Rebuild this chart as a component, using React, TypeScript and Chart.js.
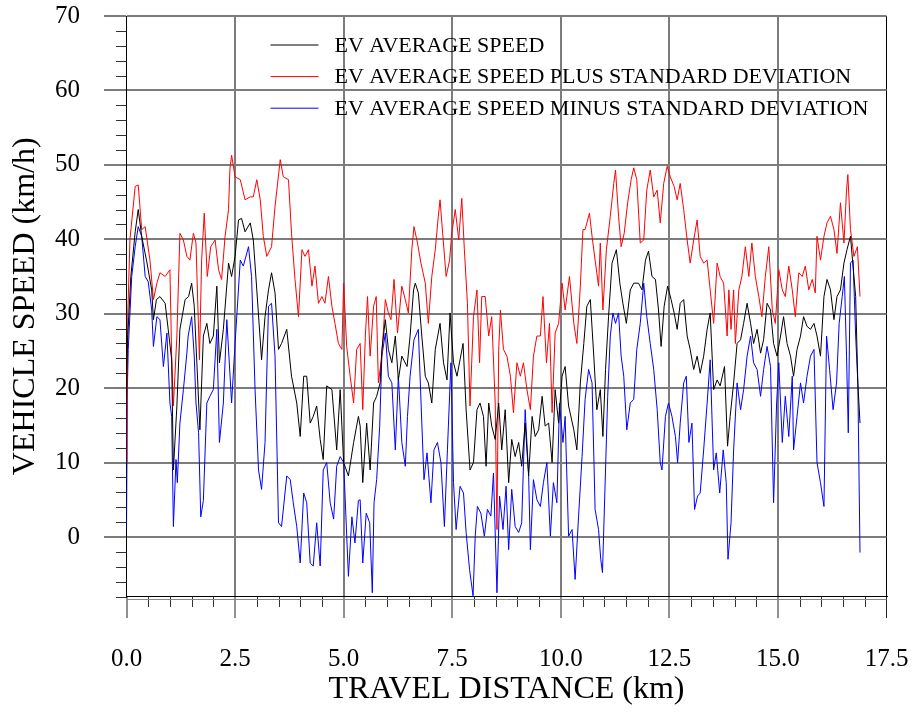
import React, { useEffect, useRef } from "react";
import { Chart, registerables } from "chart.js";

Chart.register(...registerables);

// ---------- data ----------
const avgKm = [
  0, 0.02, 0.1, 0.2, 0.27, 0.35, 0.46, 0.58, 0.62, 0.69, 0.77, 0.89, 0.96, 1.04, 1.08, 1.16, 1.23, 1.35, 1.43, 1.5,
  1.56, 1.62, 1.69, 1.77, 1.85, 1.92, 2.0, 2.08, 2.14, 2.23, 2.35, 2.42, 2.5, 2.58, 2.65, 2.73, 2.85, 2.92, 3.0, 3.11,
  3.19, 3.27, 3.34, 3.42, 3.5, 3.57, 3.69, 3.8, 3.92, 4.0, 4.08, 4.15, 4.23, 4.3, 4.38, 4.46, 4.53, 4.61, 4.73, 4.84,
  4.92, 5.0, 5.11, 5.23, 5.34, 5.38, 5.44, 5.53, 5.61, 5.69, 5.76, 5.84, 5.88, 5.96, 6.03, 6.11, 6.19, 6.26, 6.34, 6.46,
  6.53, 6.61, 6.65, 6.72, 6.8, 6.88, 6.95, 7.03, 7.11, 7.22, 7.3, 7.38, 7.45, 7.53, 7.61, 7.68, 7.75, 7.82, 7.91, 7.99,
  8.07, 8.14, 8.22, 8.28, 8.34, 8.41, 8.49, 8.57, 8.64, 8.72, 8.8, 8.87, 8.95, 9.03, 9.1, 9.18, 9.26, 9.34, 9.41, 9.49,
  9.57, 9.64, 9.72, 9.8, 9.87, 9.95, 10.03, 10.1, 10.18, 10.3, 10.37, 10.45, 10.53, 10.6, 10.68, 10.76, 10.83, 10.91, 10.97, 11.03,
  11.1, 11.18, 11.28, 11.36, 11.43, 11.51, 11.6, 11.68, 11.79, 11.87, 11.95, 12.02, 12.1, 12.18, 12.25, 12.31, 12.38, 12.46, 12.54, 12.61,
  12.68, 12.75, 12.83, 12.91, 12.98, 13.06, 13.14, 13.21, 13.29, 13.37, 13.44, 13.52, 13.6, 13.67, 13.77, 13.84, 13.9, 13.98, 14.06, 14.14,
  14.21, 14.29, 14.37, 14.44, 14.52, 14.6, 14.67, 14.75, 14.83, 14.9, 14.98, 15.06, 15.13, 15.21, 15.29, 15.36, 15.44, 15.52, 15.59, 15.67,
  15.75, 15.83, 15.9, 15.98, 16.06, 16.13, 16.21, 16.29, 16.36, 16.44, 16.52, 16.59, 16.67, 16.75, 16.79, 16.84, 16.89,
];
const avgSpeed = [
  19, 26, 35, 41, 44, 40.4, 37.2, 33.2, 29.2, 31.9, 32.3, 31.4, 27.9, 23.8, 9, 17.6, 27.9, 31.9, 32.3, 34.1,
  31, 23.4, 14.4, 27, 28.7, 26, 27, 33.7, 23.4, 27.9, 36.8, 35, 37.7, 42.6, 42.8, 41, 42.2, 39.9, 33.2, 23.8,
  29.6, 33.2, 35.5, 32.8, 25.2, 26, 27.9, 21.6, 18, 13.5, 21.6, 21.6, 15.3, 16.2, 17.6, 13.1, 10.4, 20.3, 19.8, 11.7,
  19.8, 10, 8.2, 12.7, 16.2, 14.9, 7.3, 15.3, 9, 18, 18.9, 20.7, 25.2, 29.2, 25.2, 23.4, 27, 21.1, 24.3, 22.9,
  27, 33.2, 34.1, 32.8, 27, 21.6, 20.7, 18, 25.2, 28.7, 23.4, 21.1, 30.1, 23.4, 21.6, 23.8, 26, 17.1, 9, 10,
  17.1, 18, 16.2, 9.5, 18, 14.9, 13.1, 18, 11.7, 17.1, 7.3, 13.1, 10.8, 12.7, 9.5, 15.3, 8.2, 16.2, 13.5, 14.4,
  18.9, 14.9, 15.3, 10, 19.8, 15.3, 21.6, 22.9, 17.6, 14.4, 11.7, 20.7, 26, 31, 31.9, 24.3, 17.1, 19.8, 13.5, 22.5,
  29.6, 36.8, 38.6, 34.1, 31.4, 28.7, 33.2, 34.1, 34.1, 33.2, 37.2, 38.4, 35, 34.6, 30.5, 25.6, 31, 33.7, 31.9, 30.1,
  27.9, 31.4, 31.9, 27, 25.2, 22.5, 24.3, 22, 24.3, 27.9, 30.1, 19.8, 21.1, 20.3, 22.9, 12.2, 16.2, 20.7, 26, 26.5,
  28.7, 31.4, 28.7, 26, 27.9, 24.7, 26.5, 31.4, 30.5, 26, 24.3, 27, 29.6, 26, 24.3, 21.6, 25.2, 27, 29.6, 28.3,
  27.9, 28.7, 27, 24.3, 32.3, 34.6, 33.2, 29.2, 32.3, 33.2, 36.8, 38.6, 40.4, 35, 32.3, 20.7, 15.3,
];

const plusKm = [
  0, 0.01, 0.03, 0.08, 0.2, 0.27, 0.35, 0.43, 0.54, 0.62, 0.7, 0.77, 0.89, 1.0, 1.04, 1.08, 1.16, 1.23, 1.31, 1.39,
  1.46, 1.54, 1.6, 1.68, 1.73, 1.79, 1.86, 1.94, 2.04, 2.12, 2.19, 2.27, 2.35, 2.38, 2.42, 2.5, 2.62, 2.73, 2.85, 2.92,
  3.0, 3.08, 3.15, 3.23, 3.34, 3.42, 3.54, 3.61, 3.73, 3.8, 3.88, 3.96, 4.04, 4.11, 4.19, 4.27, 4.34, 4.42, 4.5, 4.57,
  4.65, 4.73, 4.8, 4.88, 4.96, 5.0, 5.07, 5.15, 5.23, 5.3, 5.38, 5.44, 5.5, 5.55, 5.61, 5.69, 5.75, 5.8, 5.88, 5.96,
  6.03, 6.09, 6.16, 6.24, 6.34, 6.42, 6.49, 6.57, 6.62, 6.7, 6.78, 6.88, 6.95, 7.03, 7.11, 7.18, 7.22, 7.28, 7.36, 7.44,
  7.49, 7.57, 7.65, 7.72, 7.78, 7.85, 7.91, 7.99, 8.07, 8.13, 8.18, 8.26, 8.34, 8.41, 8.49, 8.53, 8.57, 8.61, 8.68, 8.76,
  8.84, 8.91, 8.99, 9.07, 9.14, 9.22, 9.3, 9.37, 9.45, 9.53, 9.59, 9.67, 9.74, 9.8, 9.87, 9.95, 10.03, 10.1, 10.2, 10.3,
  10.37, 10.45, 10.51, 10.56, 10.66, 10.72, 10.79, 10.87, 10.91, 10.97, 11.05, 11.14, 11.22, 11.26, 11.33, 11.39, 11.46, 11.54, 11.62, 11.68,
  11.75, 11.83, 11.91, 11.98, 12.06, 12.14, 12.22, 12.29, 12.37, 12.45, 12.52, 12.61, 12.68, 12.75, 12.83, 12.91, 12.98, 13.06, 13.14, 13.21,
  13.29, 13.37, 13.44, 13.52, 13.6, 13.67, 13.75, 13.83, 13.87, 13.92, 13.98, 14.02, 14.1, 14.17, 14.25, 14.33, 14.4, 14.48, 14.56, 14.63,
  14.71, 14.79, 14.87, 14.94, 15.02, 15.1, 15.17, 15.25, 15.33, 15.4, 15.48, 15.56, 15.63, 15.71, 15.79, 15.86, 15.9, 15.98, 16.06, 16.13,
  16.21, 16.29, 16.36, 16.44, 16.52, 16.58, 16.61, 16.67, 16.75, 16.83, 16.89,
];
const plusSpeed = [
  10, 16, 30, 40, 47.1, 47.3, 41.3, 41.7, 37.2, 31.9, 34.1, 35.5, 35, 35.9, 24.3, 17.6, 27, 40.8, 39.9, 37.7,
  37.2, 40.8, 39.5, 23.8, 37.2, 43.5, 35, 39, 39.9, 35.9, 34.6, 40.4, 44, 49.3, 51.3, 48.4, 48, 45.3, 45.7, 45.7,
  48, 45.3, 40.4, 37.7, 39, 44.4, 50.7, 48.4, 48, 40.8, 34.6, 29.6, 38.6, 37.7, 38.6, 33.7, 36.4, 31.4, 32.3, 31.4,
  35, 31, 28.7, 26, 25.2, 34.1, 25.6, 21.6, 18, 25.2, 26, 17.1, 27, 32.3, 24.3, 31, 32.3, 20.7, 24.3, 31.9,
  30.1, 29.2, 34.6, 27.4, 33.7, 31.9, 30.1, 38.6, 41.7, 39.5, 36.8, 34.1, 28.7, 35, 38.6, 43.1, 45.3, 40.8, 35, 37.2,
  40.8, 44, 39.9, 45.5, 38.6, 31.4, 17.6, 29.6, 33.2, 23.4, 32.3, 32.3, 27, 29.6, 18, 1, 25, 30.5, 25.2, 24.3,
  21.6, 16.7, 23.4, 21.6, 23.4, 19.8, 17.1, 24.3, 27, 27, 32.3, 23.4, 28.7, 16.7, 27.4, 28.7, 34.1, 30.5, 35, 28.7,
  26, 33.7, 41.3, 41.3, 43.5, 40.4, 37.2, 33.7, 39.5, 30.5, 38.6, 43.1, 47.5, 49.3, 43.1, 39, 40.8, 44.9, 48, 49.6,
  48, 39.5, 39.9, 46.6, 49.3, 45.7, 46.6, 42.2, 47.5, 49.8, 48.4, 47.1, 45.3, 47.5, 44, 39.9, 36.8, 39.9, 42.6, 37.7,
  36.8, 37.2, 33.2, 28.7, 36.8, 35, 34.1, 27, 33.2, 27.9, 33.2, 26, 33.2, 35, 39, 35, 39.5, 35, 32.3, 29.6,
  35, 39, 30.5, 28.7, 35.9, 33.2, 32.3, 36.4, 33.2, 29.6, 35.5, 35, 36.4, 33.2, 34.6, 32.8, 40.4, 37.2, 40.4, 42.2,
  43.1, 41.3, 38.1, 44.9, 39.5, 46.6, 48.7, 41.3, 37.7, 39, 32.3,
];

const minusKm = [
  0, 0.02, 0.04, 0.12, 0.2, 0.27, 0.35, 0.43, 0.5, 0.58, 0.62, 0.7, 0.77, 0.85, 0.93, 1.0, 1.04, 1.08, 1.14, 1.17,
  1.23, 1.31, 1.39, 1.42, 1.5, 1.56, 1.6, 1.66, 1.71, 1.77, 1.85, 1.92, 2.0, 2.08, 2.14, 2.23, 2.31, 2.42, 2.5, 2.62,
  2.69, 2.81, 2.88, 2.96, 3.04, 3.11, 3.19, 3.27, 3.34, 3.42, 3.5, 3.57, 3.69, 3.77, 3.84, 3.92, 4.0, 4.08, 4.15, 4.23,
  4.3, 4.38, 4.46, 4.53, 4.61, 4.69, 4.77, 4.84, 4.92, 5.0, 5.03, 5.11, 5.19, 5.26, 5.34, 5.38, 5.44, 5.52, 5.6, 5.66,
  5.7, 5.76, 5.83, 5.88, 5.96, 6.03, 6.11, 6.19, 6.26, 6.34, 6.42, 6.47, 6.53, 6.62, 6.72, 6.8, 6.85, 6.92, 7.01, 7.08,
  7.16, 7.24, 7.32, 7.39, 7.47, 7.53, 7.59, 7.68, 7.76, 7.82, 7.9, 7.98, 8.03, 8.08, 8.16, 8.24, 8.31, 8.39, 8.45, 8.53,
  8.59, 8.67, 8.74, 8.8, 8.87, 8.95, 9.03, 9.1, 9.18, 9.26, 9.3, 9.37, 9.45, 9.53, 9.6, 9.68, 9.76, 9.83, 9.91, 9.97,
  10.05, 10.1, 10.18, 10.26, 10.33, 10.41, 10.49, 10.56, 10.64, 10.72, 10.79, 10.87, 10.92, 10.96, 11.03, 11.08, 11.14, 11.2, 11.26, 11.33,
  11.39, 11.45, 11.52, 11.6, 11.68, 11.75, 11.83, 11.91, 11.98, 12.06, 12.14, 12.22, 12.29, 12.33, 12.41, 12.48, 12.56, 12.64, 12.69, 12.75,
  12.83, 12.89, 12.95, 13.02, 13.08, 13.15, 13.21, 13.29, 13.37, 13.44, 13.52, 13.58, 13.66, 13.74, 13.81, 13.85, 13.92, 13.98, 14.06, 14.14,
  14.21, 14.29, 14.37, 14.44, 14.52, 14.6, 14.67, 14.75, 14.83, 14.9, 14.97, 15.02, 15.1, 15.17, 15.25, 15.33, 15.36, 15.44, 15.52, 15.59,
  15.67, 15.75, 15.83, 15.9, 15.98, 16.06, 16.12, 16.19, 16.27, 16.35, 16.41, 16.48, 16.53, 16.58, 16.62, 16.67, 16.73, 16.79, 16.84, 16.89,
];
const minusSpeed = [
  1, 20, 25.2, 35, 39, 41.7, 40.4, 35, 34.3, 30.5, 25.6, 29.6, 29.2, 22.9, 27.4, 18, 16.2, 1.4, 10.4, 7.3,
  15.3, 19.8, 24.7, 27, 29.6, 24.3, 18, 14, 2.7, 4.9, 18, 18.9, 19.8, 27.9, 12.7, 18, 29.2, 18, 26, 37.2,
  36.4, 39, 35, 19.8, 9, 6.4, 12.7, 31, 31.4, 24.3, 1.9, 1.4, 8.2, 7.7, 4.6, 1.4, -3.5, 5.9, 4.6, -3.5,
  -3.9, 1.9, -3.9, 9, 10, 4.6, 2.4, 9.5, 10.8, 10, 5.9, -5.3, 2.7, -0.8, 4.9, 5, -3.5, 3.2, 1.9, -7.5,
  4.6, 7.7, 14.9, 24.3, 27.4, 21.6, 20.7, 11.7, 21.6, 12.7, 9.5, 16.2, 21.6, 26.5, 27.9, 15.3, 7.7, 11.3, 4.6, 11.7,
  12.7, 10, 1.4, 11.7, 23.4, 7.3, 1, 6.8, 5.9, 0.6, -4.4, -7.9, 0.1, 4.1, 3.2, 0.1, 3.7, 2.8, 8.6, -7.5,
  5.5, 1, 6.8, -1.7, 6.4, 1.4, 0.6, 1.9, 17.1, 8.2, -1.7, 7.7, 5, 4.1, 7.3, 10, 0.1, 7.3, 4.6, 18,
  12.7, 16.2, 0.1, 1, -5.7, 2.8, 10.8, 18.5, 22.5, 20.7, 3.7, 1, -3, -4.8, 9, 18.9, 27, 30.1, 28.7, 30.1,
  24.3, 21.6, 14.4, 18, 18.5, 25.2, 28.7, 34.1, 29.6, 26, 22.5, 17.1, 10, 9, 16.2, 18, 16.2, 13.5, 10, 15.3,
  20.7, 21.6, 12.7, 15.3, 3.7, 5.5, 5.9, 11.7, 18, 23.8, 9, 11.3, 5.9, 11.7, 7.3, -3, 1.9, 11.7, 20.7, 17.1,
  19.8, 24.3, 27, 23.4, 22.5, 18.9, 22.5, 25.6, 22.9, 4.6, 18, 23.4, 12.7, 18.9, 13.5, 21.6, 11.7, 16.2, 20.7, 18,
  21.6, 24.3, 25.2, 10, 7.3, 4.1, 27, 22.5, 17.1, 20.7, 28.7, 32.3, 35, 24.3, 14, 36.8, 37.2, 27, 20.7, -2.1,
];

const seriesLabels = [
  "EV AVERAGE SPEED",
  "EV AVERAGE SPEED PLUS STANDARD DEVIATION",
  "EV AVERAGE SPEED MINUS STANDARD DEVIATION",
];
const seriesColors = ["#000000", "#ff0000", "#0000ff"];

const xTitle = "TRAVEL DISTANCE (km)";
const yTitle = "VEHICLE SPEED (km/h)";

// ---------- styling ----------
const FONT = "'Liberation Serif', 'Times New Roman', serif";
const GRID = "#7c7c7c";
const CLEAR = "rgba(0,0,0,0)";

const toPoints = (xs: number[], ys: number[]) => xs.map((x, i) => ({ x, y: ys[i] }));

const zeroPadding = (s: any) => {
  s.paddingTop = 0;
  s.paddingBottom = 0;
  s.paddingLeft = 0;
  s.paddingRight = 0;
};

const decorPlugin = {
  id: "decor",
  beforeDatasetsDraw(chart: any) {
    const ctx = chart.ctx;
    const area = chart.chartArea;
    ctx.save();
    chart.data.datasets.forEach((ds: any, i: number) => {
      const y = area.top + 29 + i * 31.6;
      ctx.strokeStyle = ds.borderColor;
      ctx.lineWidth = 1;
      ctx.beginPath();
      ctx.moveTo(area.left + 144, y);
      ctx.lineTo(area.left + 192, y);
      ctx.stroke();
      ctx.fillStyle = "#000";
      ctx.font = `22px ${FONT}`;
      ctx.textBaseline = "middle";
      ctx.textAlign = "left";
      ctx.fillText(ds.label, area.left + 208, y + 1);
    });
    ctx.restore();
  },
  afterDraw(chart: any) {
    const ctx = chart.ctx;
    const xs = chart.scales.x;
    const ys = chart.scales.y;
    const area = chart.chartArea;
    ctx.save();
    ctx.strokeStyle = "#333";
    ctx.lineWidth = 1;
    ctx.beginPath();
    ys.ticks.forEach((t: any) => {
      if (t.value % 10 !== 0) {
        const py = Math.round(ys.getPixelForValue(t.value)) + 0.5;
        ctx.moveTo(area.left - 10.5, py);
        ctx.lineTo(area.left, py);
      }
    });
    xs.ticks.forEach((t: any) => {
      if (t.value % 2.5 !== 0) {
        const px = Math.round(xs.getPixelForValue(t.value)) + 0.5;
        ctx.moveTo(px, area.bottom);
        ctx.lineTo(px, area.bottom + 10.5);
      }
    });
    ctx.stroke();
    ctx.strokeStyle = "#8a8a8a";
    ctx.beginPath();
    ctx.moveTo(area.left, Math.round(area.bottom) + 2.5);
    ctx.lineTo(area.right, Math.round(area.bottom) + 2.5);
    ctx.stroke();
    ctx.restore();
  },
};

export default function App() {
  const canvasRef = useRef<HTMLCanvasElement | null>(null);

  useEffect(() => {
    document.body.style.margin = "0";
    const canvas = canvasRef.current;
    if (!canvas) return;

    const chart = new Chart(canvas, {
      type: "line",
      data: {
        datasets: [
          { label: seriesLabels[0], data: toPoints(avgKm, avgSpeed), borderColor: seriesColors[0] },
          { label: seriesLabels[1], data: toPoints(plusKm, plusSpeed), borderColor: seriesColors[1] },
          { label: seriesLabels[2], data: toPoints(minusKm, minusSpeed), borderColor: seriesColors[2] },
        ].map((d) => ({ ...d, borderWidth: 1, pointRadius: 0, fill: false, tension: 0 })),
      },
      options: {
        responsive: false,
        animation: false,
        devicePixelRatio: 1,
        layout: { padding: { left: 0, right: 29.5, top: 16, bottom: 0 } },
        plugins: { legend: { display: false }, tooltip: { enabled: false } },
        scales: {
          x: {
            type: "linear",
            min: 0,
            max: 17.5,
            z: 1,
            afterFit: (s: any) => {
              s.height = 118.5;
              zeroPadding(s);
            },
            border: { display: true, color: "#000", width: 1 },
            grid: {
              color: (c: any) => {
                const v = c.tick ? c.tick.value : NaN;
                if (v === 17.5) return "#000";
                if (v === 0) return CLEAR;
                return v % 2.5 === 0 ? GRID : CLEAR;
              },
              lineWidth: (c: any) => (c.tick && c.tick.value === 17.5 ? 1 : 2),
              drawTicks: true,
              tickLength: 21.5,
              tickColor: (c: any) => {
                const v = c.tick ? c.tick.value : NaN;
                return v % 2.5 === 0 ? "#222" : CLEAR;
              },
              tickWidth: 1,
            },
            ticks: {
              stepSize: 0.5,
              autoSkip: false,
              maxRotation: 0,
              padding: 26,
              color: "#000",
              font: { family: FONT, size: 25 },
              callback: (v: any) => (Number(v) % 2.5 === 0 ? Number(v).toFixed(1) : ""),
            },
            title: {
              display: true,
              text: xTitle,
              color: "#000",
              font: { family: FONT, size: 32, lineHeight: 1 },
              padding: { top: 0, bottom: 9 },
            },
          },
          y: {
            type: "linear",
            min: -8,
            max: 70,
            z: 1,
            afterFit: (s: any) => {
              s.width = 126.5;
              zeroPadding(s);
            },
            border: { display: true, color: "#000", width: 1 },
            grid: {
              color: (c: any) => (c.tick && c.tick.value % 10 === 0 ? GRID : CLEAR),
              lineWidth: 2,
              drawTicks: true,
              tickLength: 22.5,
              tickColor: (c: any) => (c.tick && c.tick.value % 10 === 0 ? GRID : CLEAR),
              tickWidth: 2,
            },
            ticks: {
              stepSize: 2,
              autoSkip: false,
              padding: 24,
              color: "#000",
              font: { family: FONT, size: 25 },
              callback: (v: any) => (Number(v) % 10 === 0 ? String(v) : ""),
            },
            title: {
              display: true,
              text: yTitle,
              color: "#000",
              font: { family: FONT, size: 32, lineHeight: 1 },
              padding: { top: 10, bottom: 0 },
            },
          },
        },
      },
      plugins: [decorPlugin],
    } as any);

    return () => chart.destroy();
  }, []);

  return (
    <div style={{ width: 916, height: 715, background: "#fff" }}>
      <canvas ref={canvasRef} width={916} height={715} style={{ display: "block" }} />
    </div>
  );
}
